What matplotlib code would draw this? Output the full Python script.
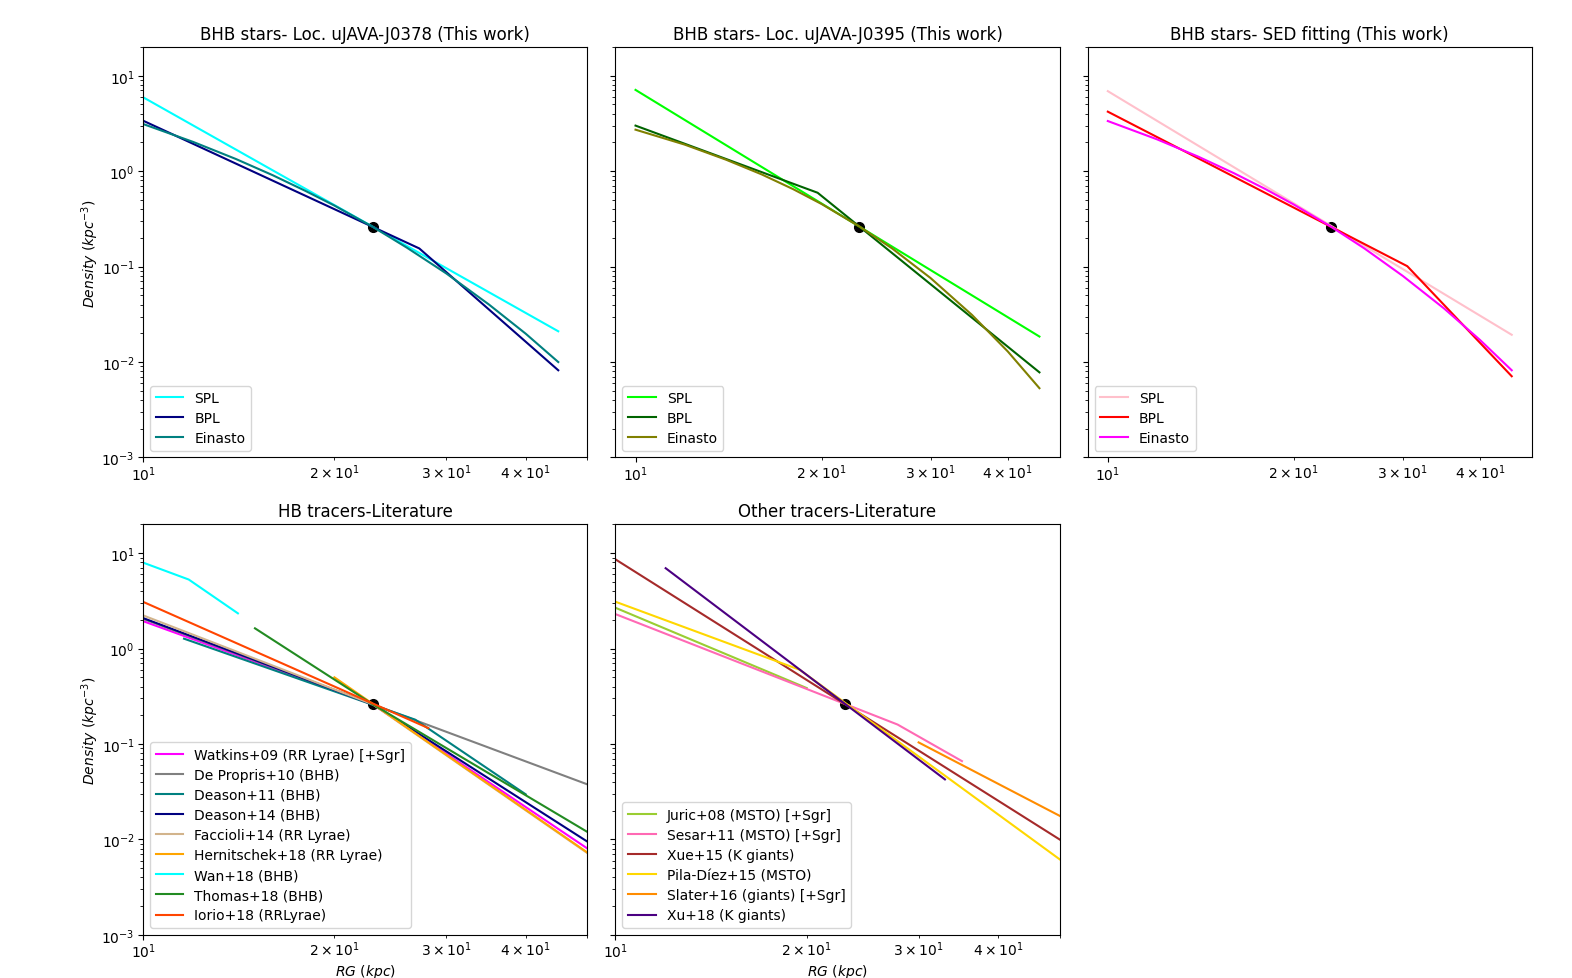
import matplotlib
matplotlib.use("Agg")
import matplotlib.pyplot as plt

# ---------------- data ----------------
R_DOT = [23.0]
RHO_DOT = [0.26]

# Panel 1: uJAVA-J0378
p1_spl_R = [10, 45]
p1_spl_rho = [5.95, 0.021]
p1_bpl_R = [10, 27.2, 45]
p1_bpl_rho = [3.38, 0.155, 0.0082]
ein_R = [10, 12, 14, 16, 18, 20, 23, 26, 30, 35, 40, 45]
p1_ein_rho = [3.12, 2.02, 1.34, 0.906, 0.622, 0.436, 0.26, 0.158, 0.0847, 0.0401, 0.0198, 0.0100]

# Panel 2: uJAVA-J0395
p2_spl_R = [10, 45]
p2_spl_rho = [7.1, 0.0185]
p2_bpl_R = [10, 19.7, 45]
p2_bpl_rho = [3.0, 0.594, 0.0078]
p2_ein_rho = [2.72, 1.90, 1.32, 0.924, 0.646, 0.452, 0.264, 0.155, 0.0759, 0.0312, 0.0129, 0.00532]

# Panel 3: SED fitting
p3_spl_R = [10, 45]
p3_spl_rho = [6.89, 0.0193]
p3_bpl_R = [10, 30.5, 45]
p3_bpl_rho = [4.2, 0.101, 0.0071]
p3_ein_rho = [3.35, 2.16, 1.42, 0.951, 0.647, 0.446, 0.26, 0.155, 0.0798, 0.0363, 0.0170, 0.0082]

# Panel 4: HB tracers (literature)
hb_labels = ["Watkins+09 (RR Lyrae) [+Sgr]", "De Propris+10 (BHB)", "Deason+11 (BHB)",
             "Deason+14 (BHB)", "Faccioli+14 (RR Lyrae)", "Hernitschek+18 (RR Lyrae)",
             "Wan+18 (BHB)", "Thomas+18 (BHB)", "Iorio+18 (RRLyrae)"]
hb_colors = ["magenta", "gray", "teal", "navy", "tan", "orange", "cyan", "forestgreen", "orangered"]
watkins_R = [10, 23, 50]
watkins_rho = [1.94, 0.26, 0.00805]
depropris_R = [10, 50]
depropris_rho = [2.05, 0.0378]
deason11_R = [11.6, 26.8, 40]
deason11_rho = [1.27, 0.18, 0.0297]
deason14_R = [10, 23, 50]
deason14_rho = [2.09, 0.26, 0.0095]
faccioli_R = [10, 23, 50]
faccioli_rho = [2.23, 0.26, 0.0072]
hernitschek_R = [20, 50]
hernitschek_rho = [0.50, 0.0073]
wan_R = [10, 11.8, 14.1]
wan_rho = [7.96, 5.29, 2.34]
thomas_R = [15, 23, 50]
thomas_rho = [1.63, 0.26, 0.012]
iorio_R = [10, 28.1]
iorio_rho = [3.09, 0.147]

# Panel 5: other tracers (literature)
ot_labels = ["Juric+08 (MSTO) [+Sgr]", "Sesar+11 (MSTO) [+Sgr]", "Xue+15 (K giants)",
             "Pila-Díez+15 (MSTO)", "Slater+16 (giants) [+Sgr]", "Xu+18 (K giants)"]
ot_colors = ["yellowgreen", "hotpink", "brown", "gold", "darkorange", "indigo"]
juric_R = [10, 20]
juric_rho = [2.68, 0.386]
sesar_R = [10, 27.8, 35.1]
sesar_rho = [2.30, 0.16, 0.0662]
xue_R = [10, 50]
xue_rho = [8.62, 0.0100]
pila_R = [10, 19.5, 50]
pila_rho = [3.1, 0.60, 0.0062]
slater_R = [30, 50]
slater_rho = [0.104, 0.0177]
xu_R = [12, 33]
xu_rho = [6.95, 0.0426]

# ---------------- figure ----------------
fig, axes = plt.subplots(2, 3, sharey=True, figsize=(15.72, 9.79), dpi=100)
fig.subplots_adjust(left=0.091, right=0.9745, top=0.951, bottom=0.044,
                    wspace=0.063, hspace=0.163)
fig.delaxes(axes[1, 2])

ylab = r'$Density\ (kpc^{-3})$'
xlab = r'$RG\ (kpc)$'
LEG = dict(loc='lower left', labelspacing=0.44)


def dot(ax):
    ax.plot(R_DOT, RHO_DOT, 'o', color='black', markersize=7)


def style(ax):
    ax.set_xscale('log')
    ax.set_yscale('log')
    ax.tick_params(axis='x', which='both', pad=1.5)
    ax.tick_params(axis='y', which='both', pad=2.5)


top_panels = [
    (axes[0, 0], "BHB stars- Loc. uJAVA-J0378 (This work)",
     (p1_spl_R, p1_spl_rho), (p1_bpl_R, p1_bpl_rho), (ein_R, p1_ein_rho),
     ["cyan", "navy", "teal"]),
    (axes[0, 1], "BHB stars- Loc. uJAVA-J0395 (This work)",
     (p2_spl_R, p2_spl_rho), (p2_bpl_R, p2_bpl_rho), (ein_R, p2_ein_rho),
     ["lime", "darkgreen", "olive"]),
    (axes[0, 2], "BHB stars- SED fitting (This work)",
     (p3_spl_R, p3_spl_rho), (p3_bpl_R, p3_bpl_rho), (ein_R, p3_ein_rho),
     ["pink", "red", "magenta"]),
]

for ax, title, spl, bpl, ein, cols in top_panels:
    dot(ax)
    ax.plot(*spl, color=cols[0], lw=1.5, label="SPL")
    ax.plot(*bpl, color=cols[1], lw=1.5, label="BPL")
    ax.plot(*ein, color=cols[2], lw=1.5, label="Einasto")
    style(ax)
    ax.set_title(title)
    ax.legend(loc='lower left', labelspacing=0.42)

axes[0, 0].set_xlim(10, 50)
axes[0, 0].set_ylabel(ylab, labelpad=0)

# HB tracers
ax = axes[1, 0]
dot(ax)
hb_series = [(watkins_R, watkins_rho), (depropris_R, depropris_rho), (deason11_R, deason11_rho),
             (deason14_R, deason14_rho), (faccioli_R, faccioli_rho), (hernitschek_R, hernitschek_rho),
             (wan_R, wan_rho), (thomas_R, thomas_rho), (iorio_R, iorio_rho)]
for (r, d), lab, c in zip(hb_series, hb_labels, hb_colors):
    ax.plot(r, d, color=c, lw=1.5, label=lab)
style(ax)
ax.set_xlim(10, 50)
ax.set_title("HB tracers-Literature")
ax.set_ylabel(ylab, labelpad=0)
ax.set_xlabel(xlab, labelpad=1)
ax.legend(**LEG)

# Other tracers
ax = axes[1, 1]
dot(ax)
ot_series = [(juric_R, juric_rho), (sesar_R, sesar_rho), (xue_R, xue_rho),
             (pila_R, pila_rho), (slater_R, slater_rho), (xu_R, xu_rho)]
for (r, d), lab, c in zip(ot_series, ot_labels, ot_colors):
    ax.plot(r, d, color=c, lw=1.5, label=lab)
style(ax)
ax.set_xlim(10, 50)
ax.set_title("Other tracers-Literature")
ax.set_xlabel(xlab, labelpad=1)
ax.legend(**LEG)

axes[0, 0].set_ylim(1e-3, 20)

fig.savefig("out.png", dpi=100)
